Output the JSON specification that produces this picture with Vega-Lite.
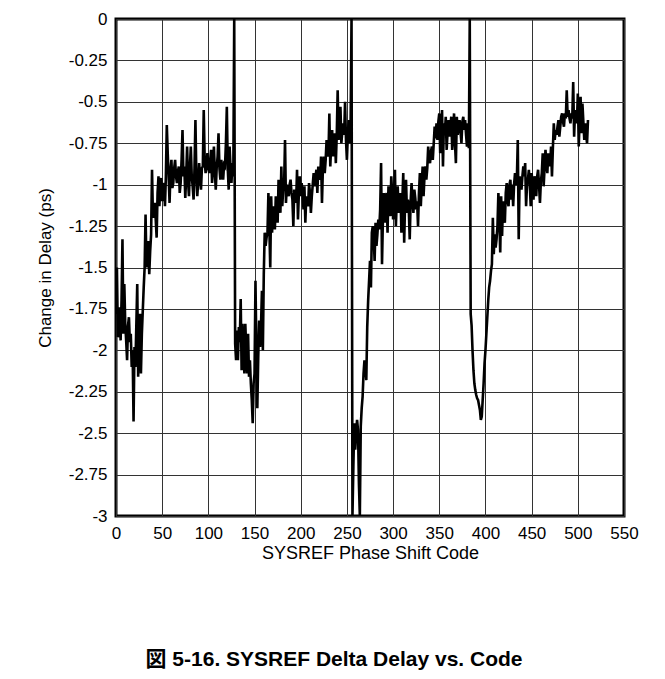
{
"$schema": "https://vega.github.io/schema/vega-lite/v6.json",
"width": 508, "height": 497,
"autosize": {"type": "none"},
"padding": {"left": 116, "top": 19, "right": 41, "bottom": 163},
"background": "white",
"config": {"view": {"stroke": "#000", "strokeWidth": 3}, "font": "Liberation Sans"},
"title": {"text": "図 5-16. SYSREF Delta Delay vs. Code", "orient": "bottom", "anchor": "middle", "frame": "group", "dx": -36, "offset": 87, "font": "Liberation Sans, Noto Sans CJK JP", "fontSize": 21, "fontWeight": "bold", "color": "#000"},
"data": {"values": [
{"code":0,"delay":-1.78},{"code":1,"delay":-1.5},{"code":2,"delay":-1.92},{"code":3,"delay":-1.9},{"code":4,"delay":-1.74},{"code":5,"delay":-1.94},{"code":6,"delay":-1.7},{"code":7,"delay":-1.33},{"code":8,"delay":-1.9},{"code":9,"delay":-1.6},
{"code":10,"delay":-1.84},{"code":11,"delay":-1.94},{"code":12,"delay":-2.06},{"code":13,"delay":-1.85},{"code":14,"delay":-1.8},{"code":15,"delay":-1.95},{"code":16,"delay":-1.9},{"code":17,"delay":-2.1},{"code":18,"delay":-2.0},{"code":19,"delay":-2.43},
{"code":20,"delay":-1.98},{"code":21,"delay":-2.1},{"code":22,"delay":-1.85},{"code":23,"delay":-1.6},{"code":24,"delay":-2.16},{"code":25,"delay":-1.9},{"code":26,"delay":-1.78},{"code":27,"delay":-2.14},{"code":28,"delay":-1.9},{"code":29,"delay":-1.76},
{"code":30,"delay":-1.62},{"code":31,"delay":-1.5},{"code":32,"delay":-1.18},{"code":33,"delay":-1.5},{"code":34,"delay":-1.4},{"code":35,"delay":-1.34},{"code":36,"delay":-1.54},{"code":37,"delay":-1.4},{"code":38,"delay":-1.3},{"code":39,"delay":-0.91},
{"code":40,"delay":-1.2},{"code":41,"delay":-1.15},{"code":42,"delay":-1.11},{"code":43,"delay":-1.21},{"code":44,"delay":-1.32},{"code":45,"delay":-1.05},{"code":46,"delay":-0.95},{"code":47,"delay":-1.13},{"code":48,"delay":-1.0},{"code":49,"delay":-0.96},
{"code":50,"delay":-1.1},{"code":51,"delay":-1.02},{"code":52,"delay":-0.99},{"code":53,"delay":-1.13},{"code":54,"delay":-0.95},{"code":55,"delay":-0.64},{"code":56,"delay":-0.81},{"code":57,"delay":-0.95},{"code":58,"delay":-1.11},{"code":59,"delay":-0.92},
{"code":60,"delay":-0.85},{"code":61,"delay":-1.02},{"code":62,"delay":-0.99},{"code":63,"delay":-0.9},{"code":64,"delay":-0.85},{"code":65,"delay":-0.95},{"code":66,"delay":-0.99},{"code":67,"delay":-0.92},{"code":68,"delay":-0.89},{"code":69,"delay":-1.05},
{"code":70,"delay":-0.99},{"code":71,"delay":-0.85},{"code":72,"delay":-0.67},{"code":73,"delay":-0.95},{"code":74,"delay":-0.89},{"code":75,"delay":-1.08},{"code":76,"delay":-0.95},{"code":77,"delay":-0.77},{"code":78,"delay":-0.98},{"code":79,"delay":-1.07},
{"code":80,"delay":-0.9},{"code":81,"delay":-0.77},{"code":82,"delay":-0.95},{"code":83,"delay":-1.01},{"code":84,"delay":-1.09},{"code":85,"delay":-0.9},{"code":86,"delay":-0.61},{"code":87,"delay":-0.95},{"code":88,"delay":-1.07},{"code":89,"delay":-0.98},
{"code":90,"delay":-0.87},{"code":91,"delay":-0.95},{"code":92,"delay":-1.03},{"code":93,"delay":-0.9},{"code":94,"delay":-0.89},{"code":95,"delay":-0.55},{"code":96,"delay":-0.85},{"code":97,"delay":-0.93},{"code":98,"delay":-0.88},{"code":99,"delay":-0.81},
{"code":100,"delay":-0.9},{"code":101,"delay":-0.93},{"code":102,"delay":-0.85},{"code":103,"delay":-0.79},{"code":104,"delay":-0.99},{"code":105,"delay":-0.9},{"code":106,"delay":-0.77},{"code":107,"delay":-0.92},{"code":108,"delay":-1.03},{"code":109,"delay":-0.9},
{"code":110,"delay":-0.83},{"code":111,"delay":-0.69},{"code":112,"delay":-0.9},{"code":113,"delay":-0.97},{"code":114,"delay":-0.85},{"code":115,"delay":-0.92},{"code":116,"delay":-0.97},{"code":117,"delay":-0.88},{"code":118,"delay":-0.89},{"code":119,"delay":-0.75},
{"code":120,"delay":-0.53},{"code":121,"delay":-0.9},{"code":122,"delay":-1.03},{"code":123,"delay":-0.77},{"code":124,"delay":-0.9},{"code":125,"delay":-0.99},{"code":126,"delay":-0.87},{"code":127,"delay":-0.95},{"code":128,"delay":0},{"code":129,"delay":-1.96},
{"code":130,"delay":-2.06},{"code":131,"delay":-1.88},{"code":132,"delay":-2.06},{"code":133,"delay":-1.86},{"code":134,"delay":-1.95},{"code":135,"delay":-1.69},{"code":136,"delay":-2.12},{"code":137,"delay":-1.84},{"code":138,"delay":-2.0},{"code":139,"delay":-2.14},
{"code":140,"delay":-1.84},{"code":141,"delay":-2.0},{"code":142,"delay":-2.14},{"code":143,"delay":-1.9},{"code":144,"delay":-2.16},{"code":145,"delay":-2.06},{"code":146,"delay":-2.2},{"code":147,"delay":-2.3},{"code":148,"delay":-2.44},{"code":149,"delay":-2.2},
{"code":150,"delay":-2.14},{"code":151,"delay":-1.58},{"code":152,"delay":-2.0},{"code":153,"delay":-2.35},{"code":154,"delay":-2.04},{"code":155,"delay":-1.82},{"code":156,"delay":-1.98},{"code":157,"delay":-1.85},{"code":158,"delay":-1.64},{"code":159,"delay":-2.0},
{"code":160,"delay":-1.54},{"code":161,"delay":-1.29},{"code":162,"delay":-1.37},{"code":163,"delay":-1.32},{"code":164,"delay":-1.29},{"code":165,"delay":-1.05},{"code":166,"delay":-1.25},{"code":167,"delay":-1.5},{"code":168,"delay":-1.07},{"code":169,"delay":-1.29},
{"code":170,"delay":-1.13},{"code":171,"delay":-1.2},{"code":172,"delay":-1.27},{"code":173,"delay":-1.07},{"code":174,"delay":-1.15},{"code":175,"delay":-1.23},{"code":176,"delay":-0.97},{"code":177,"delay":-1.1},{"code":178,"delay":-1.17},{"code":179,"delay":-0.89},
{"code":180,"delay":-1.13},{"code":181,"delay":-1.03},{"code":182,"delay":-1.0},{"code":183,"delay":-0.73},{"code":184,"delay":-1.11},{"code":185,"delay":-1.0},{"code":186,"delay":-1.05},{"code":187,"delay":-1.07},{"code":188,"delay":-1.0},{"code":189,"delay":-0.97},
{"code":190,"delay":-1.05},{"code":191,"delay":-1.09},{"code":192,"delay":-1.25},{"code":193,"delay":-1.03},{"code":194,"delay":-1.06},{"code":195,"delay":-1.11},{"code":196,"delay":-0.91},{"code":197,"delay":-1.21},{"code":198,"delay":-1.05},{"code":199,"delay":-0.95},
{"code":200,"delay":-1.07},{"code":201,"delay":-0.99},{"code":202,"delay":-1.05},{"code":203,"delay":-1.15},{"code":204,"delay":-1.01},{"code":205,"delay":-1.23},{"code":206,"delay":-1.07},{"code":207,"delay":-1.1},{"code":208,"delay":-1.13},{"code":209,"delay":-0.99},
{"code":210,"delay":-1.05},{"code":211,"delay":-1.17},{"code":212,"delay":-1.07},{"code":213,"delay":-1.0},{"code":214,"delay":-0.93},{"code":215,"delay":-1.01},{"code":216,"delay":-0.95},{"code":217,"delay":-0.91},{"code":218,"delay":-1.05},{"code":219,"delay":-0.89},
{"code":220,"delay":-0.95},{"code":221,"delay":-0.97},{"code":222,"delay":-0.83},{"code":223,"delay":-1.11},{"code":224,"delay":-0.9},{"code":225,"delay":-0.83},{"code":226,"delay":-0.93},{"code":227,"delay":-0.85},{"code":228,"delay":-0.73},{"code":229,"delay":-0.8},
{"code":230,"delay":-0.83},{"code":231,"delay":-0.57},{"code":232,"delay":-0.89},{"code":233,"delay":-0.75},{"code":234,"delay":-0.67},{"code":235,"delay":-0.83},{"code":236,"delay":-0.75},{"code":237,"delay":-0.69},{"code":238,"delay":-0.87},{"code":239,"delay":-0.7},
{"code":240,"delay":-0.43},{"code":241,"delay":-0.73},{"code":242,"delay":-0.65},{"code":243,"delay":-0.53},{"code":244,"delay":-0.75},{"code":245,"delay":-0.68},{"code":246,"delay":-0.63},{"code":247,"delay":-0.7},{"code":248,"delay":-0.5},{"code":249,"delay":-0.73},
{"code":250,"delay":-0.85},{"code":251,"delay":-0.7},{"code":252,"delay":-0.61},{"code":253,"delay":-0.75},{"code":254,"delay":-0.65},{"code":255,"delay":0},{"code":256,"delay":-3.0},{"code":257,"delay":-2.7},{"code":258,"delay":-2.44},{"code":259,"delay":-2.6},
{"code":260,"delay":-2.5},{"code":261,"delay":-2.42},{"code":262,"delay":-2.48},{"code":263,"delay":-2.8},{"code":264,"delay":-3.0},{"code":265,"delay":-2.46},{"code":266,"delay":-2.35},{"code":267,"delay":-2.28},{"code":268,"delay":-2.14},{"code":269,"delay":-2.06},
{"code":270,"delay":-2.1},{"code":271,"delay":-2.18},{"code":272,"delay":-1.86},{"code":273,"delay":-1.7},{"code":274,"delay":-1.58},{"code":275,"delay":-1.46},{"code":276,"delay":-1.62},{"code":277,"delay":-1.29},{"code":278,"delay":-1.25},{"code":279,"delay":-1.32},
{"code":280,"delay":-1.46},{"code":281,"delay":-1.23},{"code":282,"delay":-1.37},{"code":283,"delay":-1.3},{"code":284,"delay":-1.21},{"code":285,"delay":-1.27},{"code":286,"delay":-1.15},{"code":287,"delay":-0.87},{"code":288,"delay":-1.48},{"code":289,"delay":-1.2},
{"code":290,"delay":-1.05},{"code":291,"delay":-1.23},{"code":292,"delay":-1.1},{"code":293,"delay":-1.05},{"code":294,"delay":-1.29},{"code":295,"delay":-1.01},{"code":296,"delay":-1.1},{"code":297,"delay":-1.19},{"code":298,"delay":-0.95},{"code":299,"delay":-1.05},
{"code":300,"delay":-1.21},{"code":301,"delay":-1.05},{"code":302,"delay":-0.91},{"code":303,"delay":-1.25},{"code":304,"delay":-1.1},{"code":305,"delay":-1.01},{"code":306,"delay":-1.17},{"code":307,"delay":-1.1},{"code":308,"delay":-1.05},{"code":309,"delay":-1.29},
{"code":310,"delay":-1.1},{"code":311,"delay":-0.93},{"code":312,"delay":-1.35},{"code":313,"delay":-1.1},{"code":314,"delay":-0.97},{"code":315,"delay":-1.17},{"code":316,"delay":-1.09},{"code":317,"delay":-1.15},{"code":318,"delay":-1.33},{"code":319,"delay":-1.1},
{"code":320,"delay":-0.99},{"code":321,"delay":-1.1},{"code":322,"delay":-1.17},{"code":323,"delay":-1.03},{"code":324,"delay":-1.08},{"code":325,"delay":-1.15},{"code":326,"delay":-1.1},{"code":327,"delay":-1.25},{"code":328,"delay":-1.05},{"code":329,"delay":-0.93},
{"code":330,"delay":-1.13},{"code":331,"delay":-1.0},{"code":332,"delay":-0.89},{"code":333,"delay":-1.07},{"code":334,"delay":-0.95},{"code":335,"delay":-0.89},{"code":336,"delay":-0.97},{"code":337,"delay":-0.9},{"code":338,"delay":-0.77},{"code":339,"delay":-0.85},
{"code":340,"delay":-0.87},{"code":341,"delay":-0.8},{"code":342,"delay":-0.77},{"code":343,"delay":-0.85},{"code":344,"delay":-0.75},{"code":345,"delay":-0.65},{"code":346,"delay":-0.72},{"code":347,"delay":-0.63},{"code":348,"delay":-0.73},{"code":349,"delay":-0.62},
{"code":350,"delay":-0.57},{"code":351,"delay":-0.81},{"code":352,"delay":-0.7},{"code":353,"delay":-0.55},{"code":354,"delay":-0.89},{"code":355,"delay":-0.63},{"code":356,"delay":-0.7},{"code":357,"delay":-0.59},{"code":358,"delay":-0.79},{"code":359,"delay":-0.68},
{"code":360,"delay":-0.61},{"code":361,"delay":-0.71},{"code":362,"delay":-0.65},{"code":363,"delay":-0.59},{"code":364,"delay":-0.79},{"code":365,"delay":-0.7},{"code":366,"delay":-0.57},{"code":367,"delay":-0.75},{"code":368,"delay":-0.87},{"code":369,"delay":-0.59},
{"code":370,"delay":-0.7},{"code":371,"delay":-0.65},{"code":372,"delay":-0.61},{"code":373,"delay":-0.68},{"code":374,"delay":-0.75},{"code":375,"delay":-0.62},{"code":376,"delay":-0.59},{"code":377,"delay":-0.67},{"code":378,"delay":-0.61},{"code":379,"delay":-0.7},
{"code":380,"delay":-0.77},{"code":381,"delay":-0.63},{"code":382,"delay":-0.78},{"code":383,"delay":0},{"code":384,"delay":-1.78},{"code":385,"delay":-1.85},{"code":386,"delay":-2.0},{"code":387,"delay":-2.12},{"code":388,"delay":-2.2},{"code":389,"delay":-2.24},
{"code":390,"delay":-2.27},{"code":391,"delay":-2.29},{"code":392,"delay":-2.3},{"code":393,"delay":-2.33},{"code":394,"delay":-2.36},{"code":395,"delay":-2.42},{"code":396,"delay":-2.4},{"code":397,"delay":-2.3},{"code":398,"delay":-2.2},{"code":399,"delay":-2.08},
{"code":400,"delay":-2.0},{"code":401,"delay":-1.9},{"code":402,"delay":-1.8},{"code":403,"delay":-1.7},{"code":404,"delay":-1.62},{"code":405,"delay":-1.58},{"code":406,"delay":-1.52},{"code":407,"delay":-1.48},{"code":408,"delay":-1.2},{"code":409,"delay":-1.42},
{"code":410,"delay":-1.3},{"code":411,"delay":-1.38},{"code":412,"delay":-1.33},{"code":413,"delay":-1.25},{"code":414,"delay":-1.05},{"code":415,"delay":-1.2},{"code":416,"delay":-1.41},{"code":417,"delay":-1.07},{"code":418,"delay":-1.31},{"code":419,"delay":-1.1},
{"code":420,"delay":-1.18},{"code":421,"delay":-1.23},{"code":422,"delay":-1.05},{"code":423,"delay":-0.99},{"code":424,"delay":-1.1},{"code":425,"delay":-1.13},{"code":426,"delay":-1.0},{"code":427,"delay":-0.97},{"code":428,"delay":-1.09},{"code":429,"delay":-1.0},
{"code":430,"delay":-1.13},{"code":431,"delay":-1.0},{"code":432,"delay":-0.93},{"code":433,"delay":-1.0},{"code":434,"delay":-0.97},{"code":435,"delay":-0.73},{"code":436,"delay":-1.33},{"code":437,"delay":-0.95},{"code":438,"delay":-1.0},{"code":439,"delay":-1.03},
{"code":440,"delay":-0.95},{"code":441,"delay":-0.89},{"code":442,"delay":-0.95},{"code":443,"delay":-0.87},{"code":444,"delay":-1.13},{"code":445,"delay":-1.0},{"code":446,"delay":-0.97},{"code":447,"delay":-0.91},{"code":448,"delay":-1.0},{"code":449,"delay":-1.13},
{"code":450,"delay":-0.93},{"code":451,"delay":-1.0},{"code":452,"delay":-1.09},{"code":453,"delay":-0.95},{"code":454,"delay":-0.97},{"code":455,"delay":-1.07},{"code":456,"delay":-0.95},{"code":457,"delay":-0.91},{"code":458,"delay":-1.0},{"code":459,"delay":-1.11},
{"code":460,"delay":-0.98},{"code":461,"delay":-0.93},{"code":462,"delay":-0.81},{"code":463,"delay":-1.01},{"code":464,"delay":-0.9},{"code":465,"delay":-0.79},{"code":466,"delay":-0.88},{"code":467,"delay":-0.93},{"code":468,"delay":-0.81},{"code":469,"delay":-0.85},
{"code":470,"delay":-0.89},{"code":471,"delay":-0.77},{"code":472,"delay":-0.95},{"code":473,"delay":-0.78},{"code":474,"delay":-0.63},{"code":475,"delay":-0.73},{"code":476,"delay":-0.67},{"code":477,"delay":-0.7},{"code":478,"delay":-0.65},{"code":479,"delay":-0.61},
{"code":480,"delay":-0.71},{"code":481,"delay":-0.65},{"code":482,"delay":-0.59},{"code":483,"delay":-0.57},{"code":484,"delay":-0.62},{"code":485,"delay":-0.65},{"code":486,"delay":-0.57},{"code":487,"delay":-0.6},{"code":488,"delay":-0.43},{"code":489,"delay":-0.59},
{"code":490,"delay":-0.55},{"code":491,"delay":-0.6},{"code":492,"delay":-0.63},{"code":493,"delay":-0.57},{"code":494,"delay":-0.6},{"code":495,"delay":-0.38},{"code":496,"delay":-0.71},{"code":497,"delay":-0.55},{"code":498,"delay":-0.6},{"code":499,"delay":-0.63},
{"code":500,"delay":-0.45},{"code":501,"delay":-0.77},{"code":502,"delay":-0.6},{"code":503,"delay":-0.47},{"code":504,"delay":-0.69},{"code":505,"delay":-0.51},{"code":506,"delay":-0.62},{"code":507,"delay":-0.73},{"code":508,"delay":-0.63},{"code":509,"delay":-0.7},
{"code":510,"delay":-0.75},{"code":511,"delay":-0.61}
]},
"mark": {"type": "line", "color": "#000", "strokeWidth": 2.6, "clip": true, "strokeJoin": "miter"},
"encoding": {
  "x": {"field": "code", "type": "quantitative",
    "scale": {"domain": [0, 550], "nice": false, "zero": false},
    "axis": {"values": [0,50,100,150,200,250,300,350,400,450,500,550], "title": "SYSREF Phase Shift Code",
      "grid": true, "gridColor": "#333", "gridWidth": 1, "ticks": false, "domain": false,
      "labelFont": "Liberation Sans", "labelFontSize": 17, "labelColor": "#000", "labelPadding": 9, "labelFlush": false,
      "titleFont": "Liberation Sans", "titleFontSize": 18, "titleFontWeight": "normal", "titleColor": "#000", "titlePadding": 3}},
  "y": {"field": "delay", "type": "quantitative",
    "scale": {"domain": [-3, 0], "nice": false, "zero": false},
    "axis": {"values": [0,-0.25,-0.5,-0.75,-1,-1.25,-1.5,-1.75,-2,-2.25,-2.5,-2.75,-3], "labelExpr": "'' + datum.value",
      "title": "Change in Delay (ps)",
      "grid": true, "gridColor": "#333", "gridWidth": 1, "ticks": false, "domain": false,
      "labelFont": "Liberation Sans", "labelFontSize": 17, "labelColor": "#000", "labelPadding": 9, "labelFlush": false,
      "titleFont": "Liberation Sans", "titleFontSize": 17, "titleFontWeight": "normal", "titleColor": "#000", "titlePadding": 14}}
}
}
